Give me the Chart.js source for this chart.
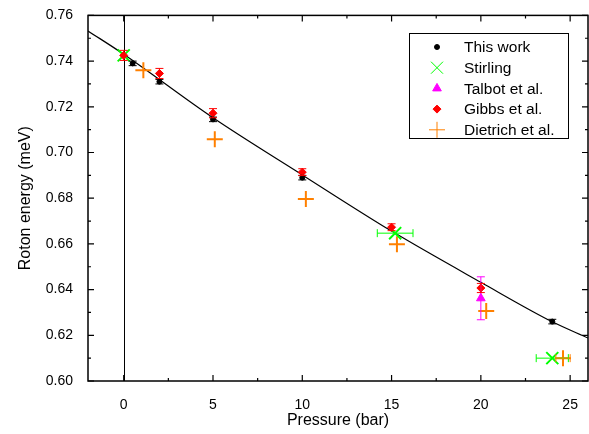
<!DOCTYPE html>
<html>
<head>
<meta charset="utf-8">
<script src="https://cdn.jsdelivr.net/npm/chart.js@4/dist/chart.umd.min.js"></script>
<style>
  html, body { margin: 0; padding: 0; background: #fff; }
</style>
</head>
<body>
<canvas id="myChart" width="589" height="434"></canvas>
<script>
// values
const thisWorkP = [0.5, 2, 5, 10, 24];
const thisWorkE = [0.739, 0.731, 0.7145, 0.689, 0.626];
const thisWorkErr = [0.001, 0.001, 0.001, 0.001, 0.001];

const stirlingP = [0, 15.2, 24];
const stirlingE = [0.7425, 0.6647, 0.610];
const stirlingPErr = [0, 1.0, 0.9];

const talbotP = [20];
const talbotE = [0.6362];
const talbotErr = [0.0094];

const gibbsP = [0, 2, 5, 10, 15, 20];
const gibbsE = [0.7425, 0.7346, 0.7172, 0.6914, 0.6673, 0.6407];
const gibbsErr = [0.0022, 0.0022, 0.002, 0.0015, 0.0015, 0.002];

const dietrichP = [1.1, 5.1, 10.2, 15.3, 20.3, 24.6];
const dietrichE = [0.736, 0.7058, 0.6796, 0.6599, 0.6306, 0.610];
const dietrichPErr = [0, 0, 0, 0, 0, 0.4];

const fitP = [-2, 0, 5, 10, 15, 20, 24, 26];
const fitE = [0.7532, 0.7430, 0.7152, 0.6902, 0.6656, 0.6432, 0.6259, 0.6188];

const xTicks = [0, 5, 10, 15, 20, 25];

const FONT = 'Arial, "Liberation Sans", sans-serif';

function pts(xs, ys) {
  return xs.map((x, i) => ({ x: x, y: ys[i] }));
}

// error bars drawn through the scales
const errorBars = {
  id: 'errorBars',
  afterDatasetsDraw(chart) {
    const c = chart.ctx;
    const xs = chart.scales.x, ys = chart.scales.y;
    chart.data.datasets.forEach(ds => {
      if (!ds.errY && !ds.errX) return;
      c.save();
      c.strokeStyle = ds.borderColor;
      c.lineWidth = 1;
      ds.data.forEach((p, i) => {
        const px = xs.getPixelForValue(p.x), py = ys.getPixelForValue(p.y);
        const ey = ds.errY ? ds.errY[i] : 0;
        const ex = ds.errX ? ds.errX[i] : 0;
        c.beginPath();
        if (ey) {
          const y1 = ys.getPixelForValue(p.y - ey), y2 = ys.getPixelForValue(p.y + ey);
          c.moveTo(px, y1); c.lineTo(px, y2);
          c.moveTo(px - 4, y1); c.lineTo(px + 4, y1);
          c.moveTo(px - 4, y2); c.lineTo(px + 4, y2);
        }
        if (ex) {
          const x1 = xs.getPixelForValue(p.x - ex), x2 = xs.getPixelForValue(p.x + ex);
          c.moveTo(x1, py); c.lineTo(x2, py);
          c.moveTo(x1, py - 4); c.lineTo(x1, py + 4);
          c.moveTo(x2, py - 4); c.lineTo(x2, py + 4);
        }
        c.stroke();
      });
      c.restore();
    });
  }
};

// box frame with inward ticks, zero line, legend
const frame = {
  id: 'frame',
  beforeDatasetsDraw(chart) {
    const c = chart.ctx, a = chart.chartArea;
    const x0 = Math.round(chart.scales.x.getPixelForValue(0)) + 0.5;
    c.save();
    c.strokeStyle = '#000';
    c.lineWidth = 1;
    c.beginPath();
    c.moveTo(x0, a.top); c.lineTo(x0, a.bottom);
    c.stroke();
    c.restore();
  },
  afterDraw(chart) {
    const c = chart.ctx, a = chart.chartArea;
    const xs = chart.scales.x, ys = chart.scales.y;
    c.save();
    c.strokeStyle = '#000';
    c.lineWidth = 1.5;
    c.strokeRect(a.left, a.top, a.right - a.left, a.bottom - a.top);
    c.lineWidth = 1.2;
    c.beginPath();
    for (let v = 0; v <= 25; v += 2.5) {
      const px = xs.getPixelForValue(v);
      const len = v % 5 === 0 ? 6 : 3;
      c.moveTo(px, a.bottom); c.lineTo(px, a.bottom - len);
      c.moveTo(px, a.top); c.lineTo(px, a.top + len);
    }
    for (let k = 60; k <= 76; k++) {
      const py = ys.getPixelForValue(k / 100);
      const len = k % 2 === 0 ? 6 : 3;
      c.moveTo(a.left, py); c.lineTo(a.left + len, py);
      c.moveTo(a.right, py); c.lineTo(a.right - len, py);
    }
    c.stroke();

    // legend
    const lx = 409.5, ly = 33.5, lw = 159, lh = 105;
    c.fillStyle = '#fff';
    c.fillRect(lx, ly, lw, lh);
    c.lineWidth = 1;
    c.strokeRect(lx, ly, lw, lh);
    c.font = '15.5px ' + FONT;
    c.textBaseline = 'middle';
    c.textAlign = 'left';
    const items = chart.data.datasets.filter(d => d.label !== 'fit');
    items.forEach((d, i) => {
      const y = 47 + i * 20.7;
      c.fillStyle = d.backgroundColor;
      c.strokeStyle = d.borderColor;
      Chart.helpers.drawPoint(c, {
        pointStyle: d.pointStyle, radius: d.pointRadius, rotation: 0,
        borderWidth: d.borderWidth
      }, 437, y);
      c.fillStyle = '#000';
      c.fillText(d.label, 464, y + 1);
    });
    c.restore();
  }
};

const ctx = document.getElementById('myChart');

new Chart(ctx, {
  type: 'scatter',
  data: {
    datasets: [{
      label: 'This work',
      data: pts(thisWorkP, thisWorkE),
      errY: thisWorkErr,
      pointStyle: 'circle',
      pointRadius: 2.5,
      borderWidth: 1,
      borderColor: '#000',
      backgroundColor: '#000',
      order: 1
    }, {
      label: 'Stirling',
      data: pts(stirlingP, stirlingE),
      errX: stirlingPErr,
      pointStyle: 'crossRot',
      pointRadius: 8.5,
      borderWidth: 2,
      borderColor: '#00ff00',
      backgroundColor: '#00ff00',
      order: 4
    }, {
      label: 'Talbot et al.',
      data: pts(talbotP, talbotE),
      errY: talbotErr,
      pointStyle: 'triangle',
      pointRadius: 5,
      borderWidth: 1,
      borderColor: '#ff00ff',
      backgroundColor: '#ff00ff',
      order: 3
    }, {
      label: 'Gibbs et al.',
      data: pts(gibbsP, gibbsE),
      errY: gibbsErr,
      pointStyle: 'rectRot',
      pointRadius: 4,
      borderWidth: 1,
      borderColor: '#ff0000',
      backgroundColor: '#ff0000',
      order: 2
    }, {
      label: 'Dietrich et al.',
      data: pts(dietrichP, dietrichE),
      errX: dietrichPErr,
      pointStyle: 'cross',
      pointRadius: 8,
      borderWidth: 2,
      borderColor: '#ff8000',
      backgroundColor: '#ff8000',
      order: 5
    }, {
      label: 'fit',
      data: pts(fitP, fitE),
      showLine: true,
      cubicInterpolationMode: 'monotone',
      pointRadius: 0,
      borderWidth: 1.2,
      borderColor: '#000',
      backgroundColor: '#000',
      order: 6
    }]
  },
  options: {
    responsive: false,
    animation: false,
    layout: { autoPadding: false, padding: { top: 14, right: 1, left: 0, bottom: 0 } },
    plugins: {
      legend: { display: false },
      tooltip: { enabled: false }
    },
    scales: {
      x: {
        type: 'linear',
        min: -2,
        max: 26,
        afterBuildTicks: s => { s.ticks = xTicks.map(v => ({ value: v })); },
        afterFit: s => { s.height = 53; s.paddingLeft = 0; s.paddingRight = 0; },
        grid: { display: false },
        border: { display: false },
        ticks: { color: '#000', font: { size: 14, family: FONT }, padding: 8, maxRotation: 0 },
        title: { display: true, text: 'Pressure (bar)', color: '#000', font: { size: 16, family: FONT }, padding: { top: 4, bottom: 4 } }
      },
      y: {
        min: 0.6,
        max: 0.76,
        afterFit: s => { s.width = 88; },
        grid: { display: false },
        border: { display: false },
        ticks: { stepSize: 0.02, color: '#000', font: { size: 14, family: FONT }, padding: 7,
          callback: v => v.toFixed(2) },
        title: { display: true, text: 'Roton energy (meV)', color: '#000', font: { size: 16, family: FONT }, padding: { top: 16, bottom: 4 } }
      }
    }
  },
  plugins: [errorBars, frame]
});
</script>
</body>
</html>
